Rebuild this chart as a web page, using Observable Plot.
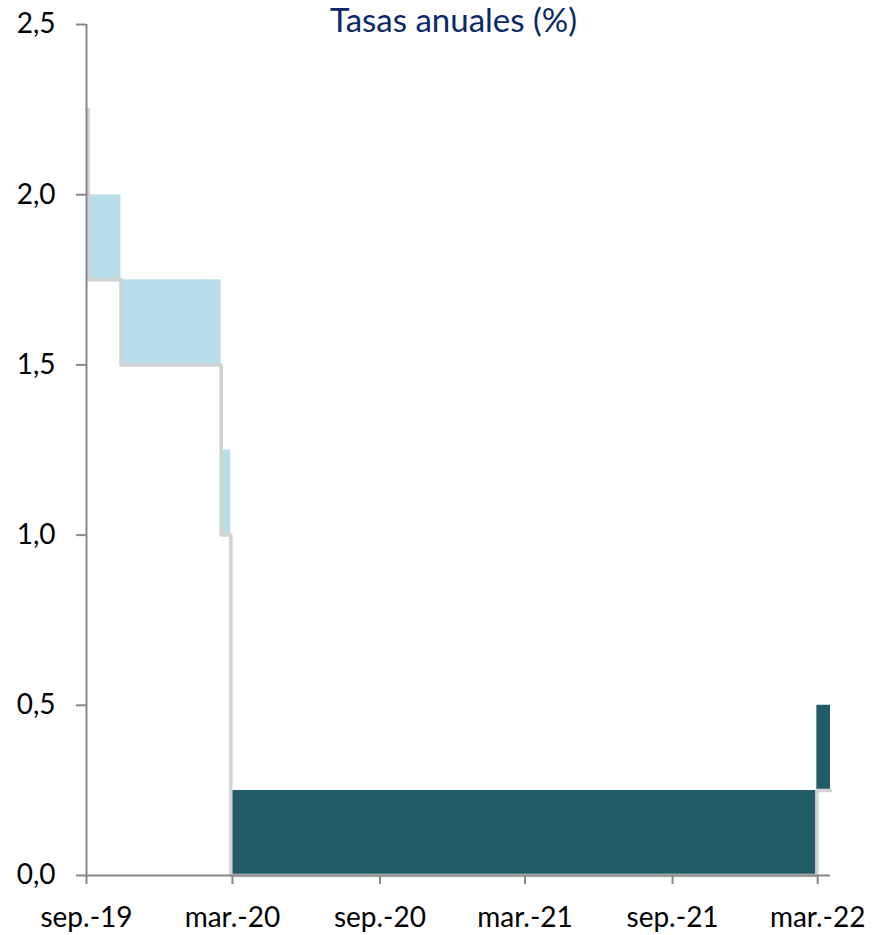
<!DOCTYPE html>
<html>
<head>
<meta charset="utf-8">
<script src="https://cdn.jsdelivr.net/npm/d3@7"></script>
<script src="https://cdn.jsdelivr.net/npm/@observablehq/plot@0.6"></script>
<style>
  html, body { margin: 0; padding: 0; background: #fff; }
  #chart svg { display: block; }
</style>
</head>
<body>
<div id="chart"></div>
<script>
// Title
const chartTitle = "Tasas anuales (%)";

// Target range before the March 2020 cut to zero (light blue)
const preDates  = ["2019-09-18", "2019-10-31", "2020-03-04", "2020-03-16"];
const preLower  = [1.75, 1.50, 1.00, 1.00];
const preUpper  = [2.00, 1.75, 1.25, 1.25];

// Target range from March 2020 (dark teal)
const postDates = ["2020-03-16", "2022-03-17", "2022-04-03"];
const postLower = [0.00, 0.25, 0.25];
const postUpper = [0.25, 0.50, 0.50];

// Grey line (lower limit / reference rate)
const lineDates  = ["2019-09-18", "2019-09-20", "2019-10-31", "2020-03-04", "2020-03-16", "2022-03-17", "2022-04-03"];
const lineValues = [2.25, 1.75, 1.50, 1.00, 0.00, 0.25, 0.25];

// Axis ticks
const xTickDates  = ["2019-09-18", "2020-03-18", "2020-09-18", "2021-03-18", "2021-09-18", "2022-03-18"];
const xTickLabels = ["sep.-19", "mar.-20", "sep.-20", "mar.-21", "sep.-21", "mar.-22"];
const yTickValues = [0, 0.5, 1.0, 1.5, 2.0, 2.5];
const yTickLabels = ["0,0", "0,5", "1,0", "1,5", "2,0", "2,5"];

const parse = d3.utcParse("%Y-%m-%d");
const pre  = preDates.map((d, i) => ({date: parse(d), lo: preLower[i], hi: preUpper[i]}));
const post = postDates.map((d, i) => ({date: parse(d), lo: postLower[i], hi: postUpper[i]}));
const line = lineDates.map((d, i) => ({date: parse(d), v: lineValues[i]}));
const xTicks = xTickDates.map(parse);
const xLabel = new Map(xTicks.map((d, i) => [+d, xTickLabels[i]]));
const yLabel = new Map(yTickValues.map((v, i) => [v, yTickLabels[i]]));

const xStart = parse("2019-09-18");
const xEnd = parse("2022-04-03");
const axisColor = "#888888";
const FONT = "'Gill Sans', 'Gill Sans MT', Lato, sans-serif";

const plot = Plot.plot({
  width: 872,
  height: 935,
  marginLeft: 86,
  marginRight: 42,
  marginTop: 24,
  marginBottom: 60,
  style: {fontFamily: FONT, fontSize: "28px", color: "#000", background: "#fff"},
  x: {type: "utc", domain: [xStart, xEnd]},
  y: {domain: [0, 2.5]},
  marks: [
    Plot.areaY(pre,  {x: "date", y1: "lo", y2: "hi", curve: "step-after", fill: "#b8dfe9"}),
    Plot.areaY(post, {x: "date", y1: "lo", y2: "hi", curve: "step-after", fill: "#235b69"}),
    Plot.line(line, {x: "date", y: "v", curve: "step-after", stroke: "#d2d2d2", strokeWidth: 3.5}),
    Plot.ruleX([xStart], {stroke: axisColor, strokeWidth: 2}),
    Plot.ruleY([0], {stroke: axisColor, strokeWidth: 2}),
    Plot.axisY({
      ticks: yTickValues, tickSize: 10, tickPadding: 21,
      tickFormat: v => yLabel.get(v), stroke: axisColor, strokeWidth: 2,
      fill: "#000", fontSize: 28, label: null
    }),
    Plot.axisX({
      ticks: xTicks, tickSize: 9, tickPadding: 23,
      tickFormat: d => xLabel.get(+d), stroke: axisColor, strokeWidth: 2,
      fill: "#000", fontSize: 28, label: null
    }),
    Plot.text([chartTitle], {
      frameAnchor: "top", lineAnchor: "middle", dx: -5, dy: -3,
      text: d => d, fill: "#0b2869", fontSize: 33
    })
  ]
});

document.getElementById("chart").appendChild(plot);
</script>
</body>
</html>
